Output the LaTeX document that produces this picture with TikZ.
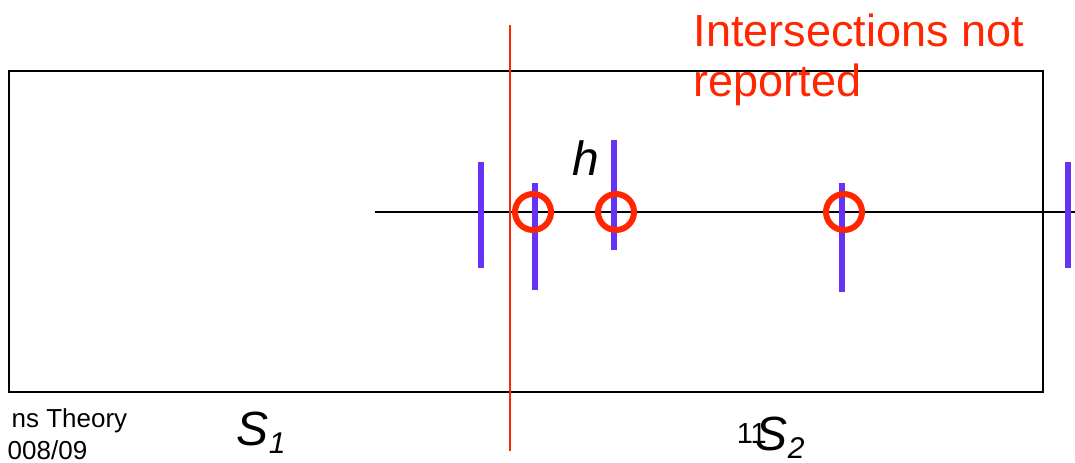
\documentclass[tikz,border=0pt]{standalone}
\usepackage{fontspec}
\setmainfont{Liberation Sans}
\usetikzlibrary{calc}
\definecolor{cutred}{RGB}{255,38,0}
\definecolor{segblue}{RGB}{102,51,245}

\begin{document}
\begin{tikzpicture}[x=0.5pt, y=-0.5pt, line width=0.75pt,
  seg/.style={segblue, line width=2.6pt},
  hit/.style={cutred, line width=3pt},
  lbl/.style={inner sep=0pt, anchor=base west}]
  \useasboundingbox (0,0) rectangle (1075,462);
  % the slab S and the sweep line h
  \draw (9,71) rectangle (1043,392);
  \coordinate (hL) at (375,212);
  \coordinate (hR) at (1075,212);
  \draw (hL)--(hR);
  % dividing line between S_1 and S_2
  \coordinate (dT) at (510,25);
  \coordinate (dB) at (510,451);
  \draw[cutred] (dT)--(dB);
  % vertical segments
  \draw[seg] (481,162)--(481,268);
  \draw[seg] (535,183)--(535,290);
  \draw[seg] (614,140)--(614,250);
  \draw[seg] (842,183)--(842,292);
  \draw[seg] (1068,162)--(1068,268);
  % intersections that are missed
  \draw[hit] (533,212) circle (18);
  \draw[hit] (616,212) circle (18);
  \draw[hit] (844,212) circle (18);
  % labels
  \node[lbl] (h) at (572,175) {\fontsize{24pt}{28pt}\selectfont\itshape h};
  \node[lbl, text=cutred, align=left, anchor=north west,
    font=\fontsize{22.5pt}{25pt}\selectfont] (msg) at (693,13)
    {Intersections not\\reported};
  \node[lbl] (s1) at (236,445)
    {\fontsize{24pt}{28pt}\selectfont\itshape S\raisebox{-4pt}{\fontsize{15pt}{17pt}\selectfont 1}};
  \node[lbl] (pg) at (736,443) {\fontsize{14.5pt}{16pt}\selectfont 11};
  \node[lbl] (s2) at (755,450)
    {\fontsize{24pt}{28pt}\selectfont\itshape S\raisebox{-4pt}{\fontsize{15pt}{17pt}\selectfont 2}};
  \node[inner sep=0pt, anchor=base east] (ft1) at (128,427) {\fontsize{13pt}{15pt}\selectfont ns Theory};
  \node[inner sep=0pt, anchor=base east] (ft2) at (88,459) {\fontsize{13pt}{15pt}\selectfont 008/09};
\end{tikzpicture}
\end{document}
